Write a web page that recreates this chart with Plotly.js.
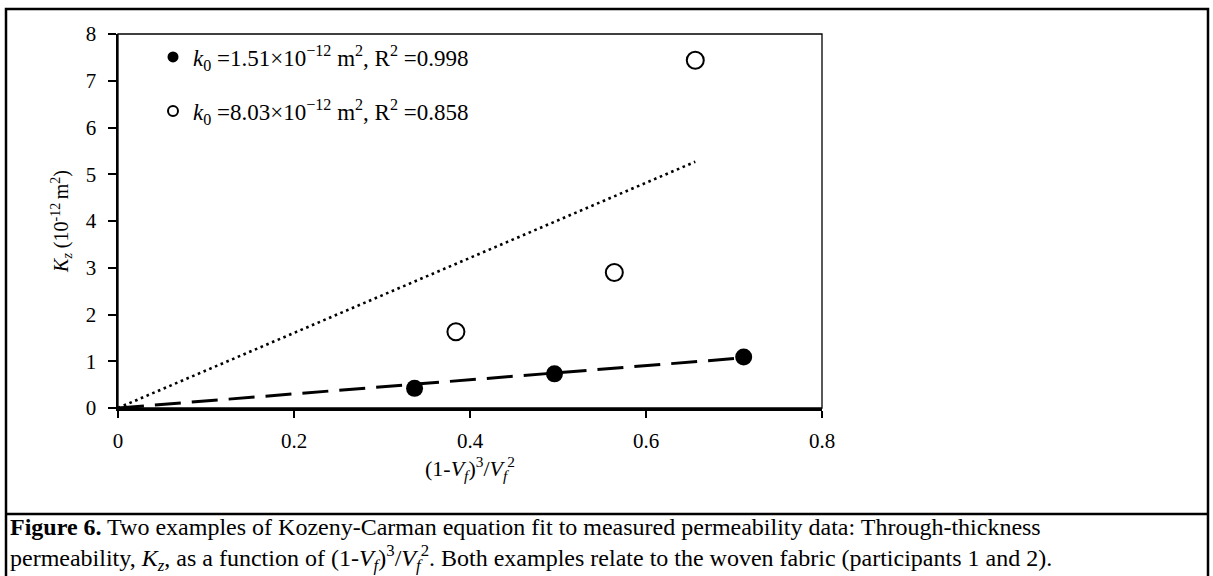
<!DOCTYPE html>
<html>
<head>
<meta charset="utf-8">
<script src="https://cdn.plot.ly/plotly-3.0.1.min.js"></script>
<style>html,body{margin:0;padding:0;background:#fff;}#chart{width:1213px;height:576px;}</style>
</head>
<body>
<div id="chart"></div>
<script>
// Participant 1 (filled) measured data
const xFilled = [0.337, 0.496, 0.711];
const yFilled = [0.42, 0.73, 1.09];
// Participant 2 (open) measured data
const xOpen = [0.384, 0.564, 0.656];
const yOpen = [1.63, 2.90, 7.44];
// Kozeny-Carman fit constants k0 (10^-12 m^2)
const k0Filled = 1.51;
const k0Open = 8.03;
const legendFilled = "<i>k</i><sub>0</sub> =1.51×10<sup>−12</sup> m<sup>2</sup>, R<sup>2</sup> =0.998";
const legendOpen = "<i>k</i><sub>0</sub> =8.03×10<sup>−12</sup> m<sup>2</sup>, R<sup>2</sup> =0.858";
const xTickVals = [0, 0.2, 0.4, 0.6, 0.8];
const yTickVals = [0, 1, 2, 3, 4, 5, 6, 7, 8];

const fitFilledX = [0, Math.max(...xFilled)];
const fitFilledY = fitFilledX.map(v => k0Filled * v);
const fitOpenX = [0, Math.max(...xOpen)];
const fitOpenY = fitOpenX.map(v => k0Open * v);

const serif = "'Liberation Serif', 'Times New Roman', serif";

const L = 118, R = 822, T = 34, B = 408, W = 1213, H = 576;
const px = v => (v - L) / (R - L);
const py = v => (B - v) / (B - T);

const traces = [
  {x: fitFilledX, y: fitFilledY, mode: 'lines', line: {color: '#000', width: 3, dash: '26px,11px'}, showlegend: false, hoverinfo: 'skip'},
  {x: fitOpenX, y: fitOpenY, mode: 'lines', line: {color: '#000', width: 2.6, dash: '2.6px,3.6px'}, showlegend: false, hoverinfo: 'skip'},
  {x: xFilled, y: yFilled, mode: 'markers', marker: {symbol: 'circle', size: 17, color: '#000'}, showlegend: false},
  {x: xOpen, y: yOpen, mode: 'markers', marker: {symbol: 'circle', size: 17, color: '#fff', line: {color: '#000', width: 2}}, showlegend: false},
  {x: [null], y: [null], mode: 'markers', name: legendFilled, marker: {symbol: 'circle', size: 11, color: '#000'}, legend: 'legend'},
  {x: [null], y: [null], mode: 'markers', name: legendOpen, marker: {symbol: 'circle', size: 10, color: '#fff', line: {color: '#000', width: 2}}, legend: 'legend2'}
];

const legendBase = {
  font: {family: serif, size: 23, color: '#000'},
  bgcolor: 'rgba(0,0,0,0)', borderwidth: 0, xanchor: 'left', yanchor: 'middle', itemwidth: 30
};

const layout = {
  width: W, height: H,
  margin: {l: L, r: W - R, t: T, b: H - B, pad: 0},
  paper_bgcolor: '#fff', plot_bgcolor: '#fff',
  font: {family: serif, color: '#000'},
  xaxis: {
    range: [0, 0.8], tickvals: xTickVals, ticktext: xTickVals.map(String),
    showline: true, linewidth: 2.5, linecolor: '#000', mirror: false,
    ticks: 'outside', ticklen: 7, tickwidth: 2, tickcolor: '#000',
    showgrid: false, zeroline: false, ticklabelstandoff: 5,
    tickfont: {family: serif, size: 21, color: '#000'},
    title: {text: "(1-<i>V<sub>f</sub></i>)<sup>3</sup>/<i>V<sub>f</sub></i><sup>2</sup>", font: {family: serif, size: 22, color: '#000'}, standoff: 8}
  },
  yaxis: {
    range: [0, 8], tickvals: yTickVals, ticktext: yTickVals.map(String),
    showline: true, linewidth: 2.5, linecolor: '#000', mirror: false,
    ticks: 'outside', ticklen: 8, tickwidth: 2, tickcolor: '#000',
    showgrid: false, zeroline: false, ticklabelstandoff: 7,
    tickfont: {family: serif, size: 21, color: '#000'},
    title: {text: "<i>K<sub>z</sub></i> (10<sup>-12 </sup>m<sup>2</sup>)", font: {family: serif, size: 20, color: '#000'}, standoff: 12}
  },
  legend: Object.assign({}, legendBase, {x: px(153), y: py(57)}),
  legend2: Object.assign({}, legendBase, {x: px(153), y: py(111)}),
  shapes: [
    {type: 'rect', xref: 'paper', yref: 'paper', x0: 0, x1: 1, y0: 0, y1: 1, line: {color: '#000', width: 1.3}, layer: 'below'},
    {type: 'rect', xref: 'paper', yref: 'paper', x0: px(6), x1: px(1208), y0: py(9), y1: py(590), line: {color: '#000', width: 2.5}, layer: 'above'},
    {type: 'line', xref: 'paper', yref: 'paper', x0: px(6), x1: px(1208), y0: py(514), y1: py(514), line: {color: '#000', width: 2.5}, layer: 'above'}
  ],
  annotations: [
    {xref: 'paper', yref: 'paper', x: px(8), y: py(544), xanchor: 'left', yanchor: 'middle', align: 'left', showarrow: false,
     font: {family: serif, size: 24, color: '#000'},
     text: "<b>Figure 6.</b> Two examples of Kozeny-Carman equation fit to measured permeability data: Through-thickness<br>permeability, <i>K<sub>z</sub></i>, as a function of (1-<i>V<sub>f</sub></i>)<sup>3</sup>/<i>V<sub>f</sub></i><sup>2</sup>. Both examples relate to the woven fabric (participants 1 and 2)."}
  ]
};

Plotly.newPlot('chart', traces, layout, {displayModeBar: false, staticPlot: true});
</script>
</body>
</html>
